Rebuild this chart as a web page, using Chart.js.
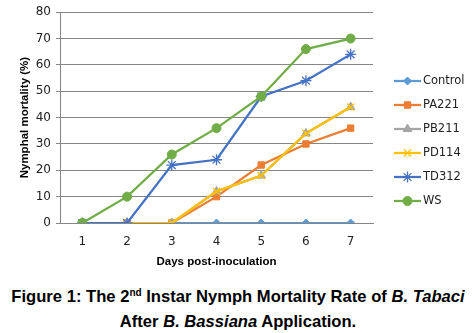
<!DOCTYPE html>
<html>
<head>
<meta charset="utf-8">
<script src="https://cdn.jsdelivr.net/npm/chart.js@4/dist/chart.umd.min.js"></script>
<style>
  html, body { margin: 0; padding: 0; background: #fff; }
  #wrap { position: relative; width: 476px; height: 333px; overflow: hidden; }
  #chart { position: absolute; left: 0; top: 0; }
  .cap { position: absolute; left: 0; width: 476px; text-align: center;
         font-family: "Liberation Sans", Arial, sans-serif; font-weight: bold;
         font-size: 16.6px; color: #000; white-space: nowrap; line-height: 20px; }
  .cap sup { font-size: 10px; line-height: 0; vertical-align: 6px; }
</style>
</head>
<body>
<div id="wrap">
  <canvas id="chart" width="476" height="275"></canvas>
  <div class="cap" style="top:287px">Figure 1: The 2<sup>nd</sup> Instar Nymph Mortality Rate of <i>B. Tabaci</i></div>
  <div class="cap" style="top:312px">After <i>B. Bassiana</i> Application.</div>
</div>
<script>
// Days after inoculation
const days = ['1', '2', '3', '4', '5', '6', '7'];

// Nymphal mortality (%) per treatment
const control = [0, 0, 0, 0, 0, 0, 0];
const pa221   = [0, 0, 0, 10, 22, 30, 36];
const pb211   = [0, 0, 0, 12, 18, 34, 44];
const pd114   = [0, 0, 0, 12, 18, 34, 44];
const td312   = [0, 0, 22, 24, 48, 54, 64];
const ws      = [0, 10, 26, 36, 48, 66, 70];

const seriesNames = ['Control', 'PA221', 'PB211', 'PD114', 'TD312', 'WS'];
const seriesData  = [control, pa221, pb211, pd114, td312, ws];
const colors  = ['#5B9BD5', '#ED7D31', '#A5A5A5', '#FFC000', '#4472C4', '#70AD47'];
const styles  = ['rectRot', 'rect', 'triangle', 'crossRot', 'star', 'circle'];
const radii   = [4, 4.5, 5, 5, 5.5, 4.5];

const datasets = seriesNames.map((name, i) => ({
  label: name,
  data: seriesData[i],
  borderColor: colors[i],
  backgroundColor: colors[i],
  borderWidth: 2.25,
  pointStyle: styles[i],
  pointRadius: radii[i],
  pointBorderWidth: (styles[i] === 'crossRot' || styles[i] === 'star') ? 1.3 : 1,
  pointBorderColor: colors[i],
  pointBackgroundColor: colors[i],
  tension: 0,
  // later series are painted over earlier ones
  order: seriesNames.length - i
}));

// Legend on the right: short line with the marker in the middle
const sideLegend = {
  id: 'sideLegend',
  afterDraw(chart) {
    const ctx = chart.ctx;
    const x0 = 394, x1 = 421, y0 = 81, step = 24;
    ctx.save();
    chart.data.datasets.forEach((ds, i) => {
      const y = y0 + i * step;
      ctx.strokeStyle = ds.borderColor;
      ctx.lineWidth = 2.25;
      ctx.beginPath();
      ctx.moveTo(x0, y);
      ctx.lineTo(x1, y);
      ctx.stroke();
      ctx.fillStyle = ds.pointBackgroundColor;
      ctx.strokeStyle = ds.pointBorderColor;
      ctx.lineWidth = ds.pointBorderWidth;
      Chart.helpers.drawPoint(ctx, {pointStyle: ds.pointStyle, radius: ds.pointRadius, rotation: 0, borderWidth: ds.pointBorderWidth}, (x0 + x1) / 2, y);
      ctx.fillStyle = '#222';
      ctx.font = '11.5px "DejaVu Sans", Verdana, sans-serif';
      ctx.textAlign = 'left';
      ctx.textBaseline = 'middle';
      ctx.fillText(ds.label, x1 + 2, y);
    });
    ctx.restore();
  }
};

new Chart(document.getElementById('chart'), {
  type: 'line',
  data: { labels: days, datasets },
  options: {
    responsive: false,
    animation: false,
    layout: { padding: { left: 0, top: 12, right: 103, bottom: 6 } },
    plugins: {
      legend: { display: false },
      tooltip: { enabled: false }
    },
    scales: {
      x: {
        offset: true,
        grid: { display: false, drawTicks: false },
        border: { color: '#868686', width: 1 },
        ticks: { color: '#222', padding: 12, font: { family: '"DejaVu Sans", Verdana, sans-serif', size: 12 } },
        title: {
          display: true, text: 'Days post-inoculation', color: '#000',
          font: { family: '"Liberation Sans", Arial, sans-serif', size: 11.5, weight: 'bold' },
          padding: { top: 6, bottom: 0 }
        },
        afterFit(scale) { scale.height = 46; }
      },
      y: {
        min: 0, max: 80,
        ticks: { stepSize: 10, color: '#222', padding: 5, font: { family: '"DejaVu Sans", Verdana, sans-serif', size: 12 } },
        grid: { color: '#868686', lineWidth: 1, tickLength: 4 },
        border: { color: '#868686', width: 1 },
        title: {
          display: true, text: 'Nymphal mortality (%)', color: '#000',
          font: { family: '"Liberation Sans", Arial, sans-serif', size: 11.5, weight: 'bold' },
          padding: { top: 18, bottom: 2 }
        },
        afterFit(scale) { scale.width = 60; }
      }
    }
  },
  plugins: [sideLegend]
});
</script>
</body>
</html>
